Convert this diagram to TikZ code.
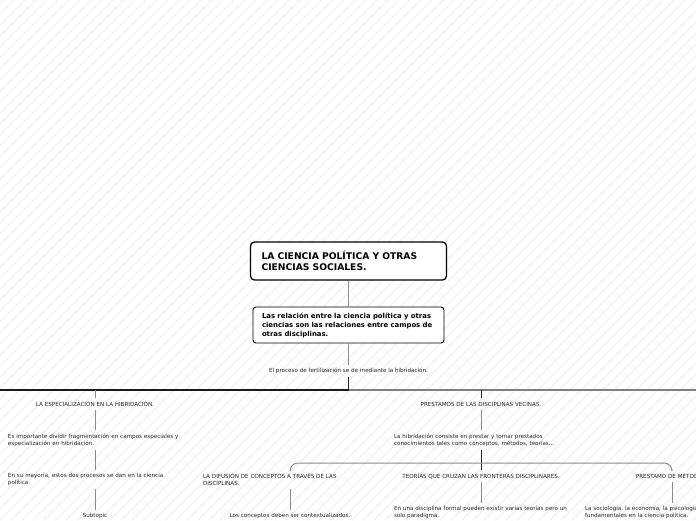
\documentclass[tikz,border=0pt]{standalone}
\usepackage{fontspec}
\setmainfont{DejaVu Sans}
\begin{document}
\begin{tikzpicture}[x=1pt,y=-1pt,
  stripe/.style={draw={rgb,255:red,243;green,243;blue,243}, line width=1.4pt},
  mainbox/.style={draw=black, line width=1.3pt, rounded corners=4pt, fill=white,
    minimum width=196pt, minimum height=38pt, text width=174pt, align=left,
    inner xsep=0pt, font=\fontsize{9.2}{11}\selectfont\bfseries},
  subbox/.style={draw=black, line width=0.9pt, rounded corners=3pt, fill=white,
    minimum width=191pt, minimum height=36pt, text width=173pt, align=left,
    inner xsep=0pt, font=\fontsize{6.9}{9}\selectfont\bfseries},
  txt/.style={font=\fontsize{5.6}{6.7}\selectfont, text=black!85, inner sep=0pt,
    outer sep=3.5pt, align=center},
  wtxt/.style={txt, text width=174pt, align=left},
  conn/.style={draw=black!45, line width=1pt},
  dconn/.style={draw=black!85, line width=1pt},
  barblack/.style={draw=black!90, line width=1.5pt},
  bargray/.style={draw=black!50, line width=1.5pt}]
\clip (0,0) rectangle (696,520);
\fill[white] (0,0) rectangle (696,520);
\foreach \i in {-50,...,66} \draw[stripe] (\i*11,520) -- (\i*11+520,0);

\node[mainbox] (root) at (348.5,261) {LA CIENCIA POLÍTICA Y OTRAS\\CIENCIAS SOCIALES.};
\node[subbox] (rel) at (348.5,325) {Las relación entre la ciencia política y otras\\ciencias son las relaciones entre campos de\\otras disciplinas.};
\node[txt] (fert) at (348.5,371) {El proceso de fertilización se de mediante la hibridación.};
\coordinate (hub) at (348.5,390);
\coordinate (barL) at (0,390);
\coordinate (barR) at (696,390);
\coordinate (tl) at (95,390);
\coordinate (tr) at (481,390);

\node[txt] (espec) at (95,404) {LA ESPECIALIZACIÓN EN LA HIBRIDACIÓN.};
\node[wtxt] (impor) at (95,440) {Es importante dividir fragmentación en campos especiales y\\especialización en hibridación.};
\node[wtxt] (mayor) at (95,479.5) {En su mayoría, estos dos procesos se dan en la ciencia\\política.};
\node[txt] (subt) at (95,516) {Subtopic};

\node[txt] (prest) at (481,404) {PRESTAMOS DE LAS DISCIPLINAS VECINAS.};
\node[wtxt] (hibr) at (481,440) {La hibridación consiste en prestar y tomar prestados\\conocimientos tales como conceptos, métodos, teorías...};
\node[wtxt] (difu) at (290,479.5) {LA DIFUSIÓN DE CONCEPTOS A TRAVÉS DE LAS\\DISCIPLINAS.};
\node[txt] (conc) at (290,516) {Los conceptos deben ser contextualizados.};
\node[txt] (teor) at (481,476) {TEORÍAS QUE CRUZAN LAS FRONTERAS DISCIPLINARES.};
\node[wtxt] (unad) at (481,512.5) {En una disciplina formal pueden existir varias teorías pero un\\solo paradigma.};
\node[txt] (metod) at (672,476) {PRESTAMO DE METODOS.};
\node[wtxt] (socio) at (672,512.5) {La sociología, la economía, la psicología son\\fundamentales en la ciencia política.};
\coordinate (split) at (481,463);

\draw[conn] (root) -- (rel);
\draw[conn] (rel) -- (fert);
\draw[dconn] (fert) -- (hub);
\draw[barblack] (barL) -- (hub);
\draw[bargray] (hub) -- (barR);
\draw[conn] (tl) -- (espec);
\draw[conn] (espec) -- (impor);
\draw[conn] (impor) -- (mayor);
\draw[conn] (mayor) -- (subt);
\draw[dconn] (tr) -- (prest);
\draw[conn] (prest) -- (hibr);
\draw[dconn] (hibr) -- (teor);
\draw[conn, rounded corners=8pt] (split) -| (difu.north);
\draw[conn, rounded corners=8pt] (split) -| (metod.north);
\draw[conn] (teor) -- (unad);
\draw[conn] (difu) -- (conc);
\draw[conn] (metod) -- (socio);
\end{tikzpicture}
\end{document}
